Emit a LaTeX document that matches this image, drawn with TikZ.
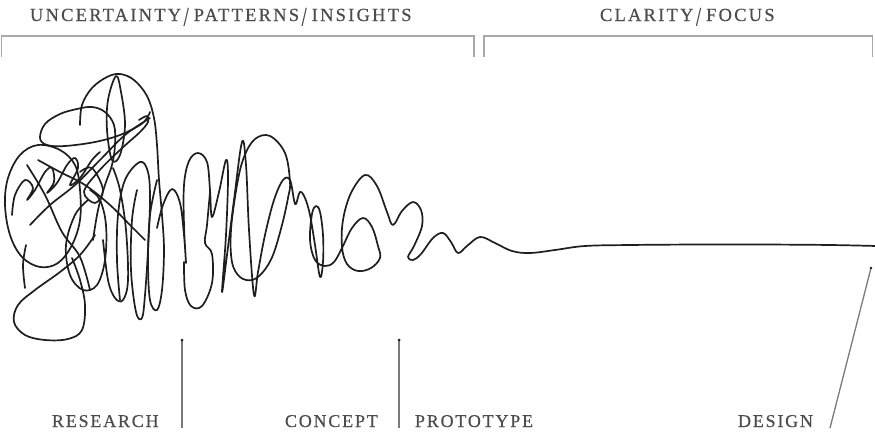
\documentclass[tikz,border=0pt]{standalone}
\usepackage{fontspec}
\usepackage{graphicx}
\newfontfamily\labfont{Liberation Serif}[LetterSpace=10,FakeBold=0.5]
\newfontfamily\topfont{Liberation Serif}[LetterSpace=12,FakeBold=0.5]
\definecolor{txt}{HTML}{4C4C4C}
\definecolor{brk}{HTML}{A8A8A8}
\definecolor{vln}{HTML}{7A7A7A}
\definecolor{ink}{HTML}{1E1E1E}
\newcommand\sepsl{\kern2.5pt\raisebox{-4.5pt}{\scalebox{1}[1.45]{/}}\kern5pt}
\tikzset{
  lab/.style={inner sep=0pt, outer sep=0pt, anchor=base west, text=txt, font=\labfont\fontsize{18}{18}\selectfont},
  toplab/.style={lab, font=\topfont\fontsize{18.5}{18.5}\selectfont},
  brkline/.style={draw=brk, line width=1.1pt},
  vline/.style={draw=vln, line width=1.3pt},
  sq/.style={draw=ink, line width=1.7pt, line cap=round, line join=round},
}
\begin{document}
\begin{tikzpicture}[x=1pt,y=-1pt]
\useasboundingbox (0,0) rectangle (875,439);
% labels
\node[toplab] (top1) at (30,21) {UNCERTAINTY\sepsl PATTERNS\sepsl INSIGHTS};
\node[toplab] (top2) at (600,21) {CLARITY\sepsl FOCUS};
\node[lab] (research) at (52,427) {RESEARCH};
\node[lab] (concept) at (285,427) {CONCEPT};
\node[lab] (prototype) at (415,427) {PROTOTYPE};
\node[lab] (design) at (738,427) {DESIGN};
% brackets
\coordinate (a1) at (1.5,57); \coordinate (a2) at (1.5,36);
\coordinate (a3) at (474,36); \coordinate (a4) at (474,57);
\coordinate (c1) at (484,57); \coordinate (c2) at (484,36);
\coordinate (c3) at (872.5,36); \coordinate (c4) at (872.5,57);
\draw[brkline] (a1) -- (a2) -- (a3) -- (a4);
\draw[brkline] (c1) -- (c2) -- (c3) -- (c4);
% pointer lines
\coordinate (r1) at (182,340); \coordinate (r2) at (182,428);
\coordinate (p1) at (399,340); \coordinate (p2) at (399,428);
\coordinate (d1) at (871,268); \coordinate (d2) at (830,428);
\draw[vline] (r1) -- (r2);
\draw[vline] (p1) -- (p2);
\draw[vline] (d1) -- (d2);
\fill[ink] (r1) circle (1.5);
\fill[ink] (p1) circle (1.5);
\fill[ink] (d1) circle (1.3);
% squiggle: chaos region
\draw[sq] plot[smooth,tension=0.6] coordinates {(80,125) (82,105) (92,88) (107,77) (120,74) (134,80) (147,96) (154,118) (157,145) (159,180) (162,215) (164,250) (162,290) (157,310) (150,300) (148,260) (150,215) (157,180)};
\draw[sq] plot[smooth,tension=0.6] coordinates {(120,300) (117,260) (118,215) (125,180) (140,162) (148,172) (150,200) (148,250) (145,295) (142,318) (136,312) (131,270) (132,220) (137,190)};
\draw[sq] plot[smooth,tension=0.6] coordinates {(103,240) (108,280) (115,298) (123,300) (128,280) (126,230) (120,190) (113,168)};
\draw[sq] plot[smooth cycle,tension=0.6] coordinates {(116,76) (121,92) (125,125) (120,155) (112,160) (107,130) (108,100)};
\draw[sq] plot[smooth,tension=0.6] coordinates {(150,112) (147,118) (140,125) (120,135) (95,142) (65,146) (47,145) (40,138) (45,124) (60,114) (77,109) (92,107) (105,112) (114,125) (115,145) (112,165) (105,185) (98,210) (93,240)};
\draw[sq] plot[smooth cycle,tension=0.6] coordinates {(75,165) (60,150) (38,145) (20,155) (8,178) (5,205) (10,235) (22,257) (40,267) (58,263) (72,245) (80,220) (80,190)};
\draw[sq] plot[smooth,tension=0.6] coordinates {(12,215) (15,195) (25,180) (33,188) (27,200) (35,190) (45,172) (52,168) (54,182) (47,193) (57,183) (67,165) (75,158) (78,168) (70,185) (80,178) (92,160) (100,152)};
\draw[sq] plot[smooth,tension=0.6] coordinates {(38,160) (60,172) (85,185) (110,205) (130,225) (145,240)};
\draw[sq] plot[smooth,tension=0.6] coordinates {(30,225) (50,205) (75,185) (100,160) (125,135) (150,118)};
\draw[sq] plot[smooth,tension=0.6] coordinates {(80,172) (92,168) (103,190) (95,203) (84,192) (98,172) (120,150) (140,132) (148,122) (147,116) (139,120)};
\draw[sq] plot[smooth,tension=0.6] coordinates {(27,165) (45,195) (62,232) (80,257) (90,290)};
\draw[sq] plot[smooth,tension=0.6] coordinates {(95,235) (80,255) (60,272) (35,290) (18,305) (14,322) (25,335) (45,340) (68,339) (82,330) (85,305) (80,280) (72,258)};
\draw[sq] plot[smooth,tension=0.6] coordinates {(88,200) (75,215) (66,245) (70,275) (83,290) (97,285) (105,260) (106,225) (100,200) (90,190)};
\draw[sq] plot[smooth,tension=0.6] coordinates {(26,245) (23,265) (25,288)};
% middle region
\draw[sq] plot[smooth,tension=0.6] coordinates {(157,228) (163,205) (172,189) (180,203) (184,235) (186,263) (184,225) (184,185) (189,161) (198,153) (207,162) (210,190) (212,217) (219,192) (226,160) (228,178) (226,235) (222,292) (227,255) (234,200) (242,142) (246,165) (249,230) (254,295) (258,272) (265,235) (274,200) (283,180) (290,180) (294,200) (296,204) (300,192) (305,198) (310,215) (315,245) (320,277) (323,262) (323,235) (320,212) (316,206) (312,214) (310,240) (315,260) (325,266) (334,262) (342,248) (352,228) (363,218) (372,227) (378,246) (380,258) (371,268) (358,271) (347,264) (342,247) (343,220) (351,193) (365,175) (377,186) (387,212) (393,225) (402,211) (413,202) (421,210) (422,226) (414,246) (408,257) (413,260) (421,254) (433,238) (443,233) (451,242) (458,253) (467,246) (480,237) (495,243) (512,251) (530,253) (555,250) (585,246) (630,245) (700,244.5) (760,244.5) (830,245) (876,246)};
\draw[sq] plot[smooth,tension=0.6] coordinates {(210,192) (207,225) (205,243) (212,254) (212,283) (202,306) (191,306) (185,290) (184,262)};
\draw[sq] plot[smooth cycle,tension=0.6] coordinates {(290,182) (285,153) (270,136) (255,139) (244,157) (237,185) (231,230) (232,262) (240,277) (252,280) (263,272) (273,255) (282,225) (288,198)};
\end{tikzpicture}
\end{document}
